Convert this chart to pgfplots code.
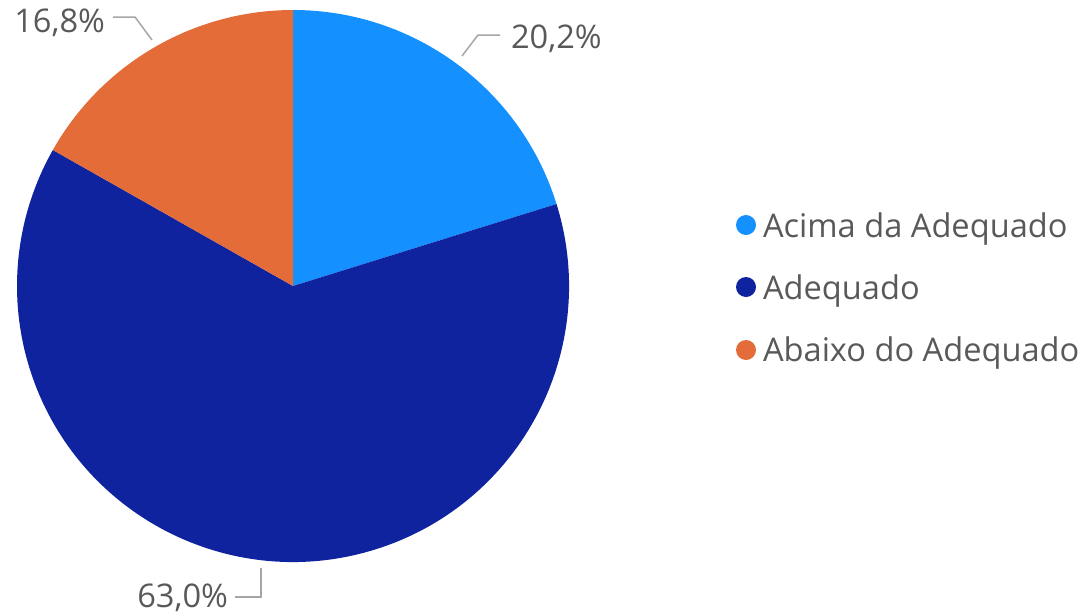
\documentclass[border=0pt]{standalone}
\usepackage{pgfplots}
\usepackage{pgfplotstable}
\pgfplotsset{compat=1.18}
\usepackage{fontspec}
\setmainfont{Open Sans}
\definecolor{acima}{RGB}{20,144,255}
\definecolor{adequado}{RGB}{16,35,158}
\definecolor{abaixo}{RGB}{228,108,56}
\definecolor{txt}{RGB}{89,89,89}
\definecolor{lead}{RGB}{166,166,166}
\pgfplotstableread{
label value
Acima 20.2
Adequado 63.0
Abaixo 16.8
}\piedata
\tikzset{lbl/.style={font=\fontsize{16.3}{19}\selectfont, text=txt, inner sep=0pt, outer sep=0pt}}
\begin{document}
\begin{tikzpicture}
\pgfplotstablegetelem{0}{value}\of\piedata \let\va\pgfplotsretval
\pgfplotstablegetelem{1}{value}\of\piedata \let\vb\pgfplotsretval
\pgfplotstablegetelem{2}{value}\of\piedata \let\vc\pgfplotsretval
\pgfmathsetmacro\aA{90-3.6*\va}
\pgfmathsetmacro\aB{\aA-3.6*\vb}
\pgfmathsetmacro\aC{\aB-3.6*\vc}
\begin{axis}[
  scale only axis, width=541.5pt, height=308pt,
  xmin=0, xmax=1083, ymin=0, ymax=616, y dir=reverse,
  axis lines=none, clip=false,
]
\path (rel axis cs:0,0) rectangle (rel axis cs:1,1);
\fill[acima] (axis cs:293,286) -- ++(90:138pt) arc[start angle=90, end angle=\aA, radius=138pt] -- cycle;
\fill[adequado] (axis cs:293,286) -- ++(\aA:138pt) arc[start angle=\aA, end angle=\aB, radius=138pt] -- cycle;
\fill[abaixo] (axis cs:293,286) -- ++(\aB:138pt) arc[start angle=\aB, end angle=\aC, radius=138pt] -- cycle;
% leader lines
\draw[lead, line width=0.75pt] (axis cs:113,17) -- (axis cs:135,17) -- (axis cs:152,40);
\draw[lead, line width=0.75pt] (axis cs:462,56) -- (axis cs:478,35) -- (axis cs:500,35);
\draw[lead, line width=0.75pt] (axis cs:235,597) -- (axis cs:261,597) -- (axis cs:261,568);
% data labels
\node[lbl, anchor=base east] at (axis cs:105,32) {16,8\%};
\node[lbl, anchor=base west] at (axis cs:511,48) {20,2\%};
\node[lbl, anchor=base east] at (axis cs:228,607) {63,0\%};
% legend
\fill[acima] (axis cs:746,225) circle[radius=5pt];
\fill[adequado] (axis cs:746,287) circle[radius=5pt];
\fill[abaixo] (axis cs:746,350) circle[radius=5pt];
\node[lbl, anchor=base west] at (axis cs:763,237) {Acima da Adequado};
\node[lbl, anchor=base west] at (axis cs:763,299) {Adequado};
\node[lbl, anchor=base west] at (axis cs:763,361) {Abaixo do Adequado};
\end{axis}
\end{tikzpicture}
\end{document}
